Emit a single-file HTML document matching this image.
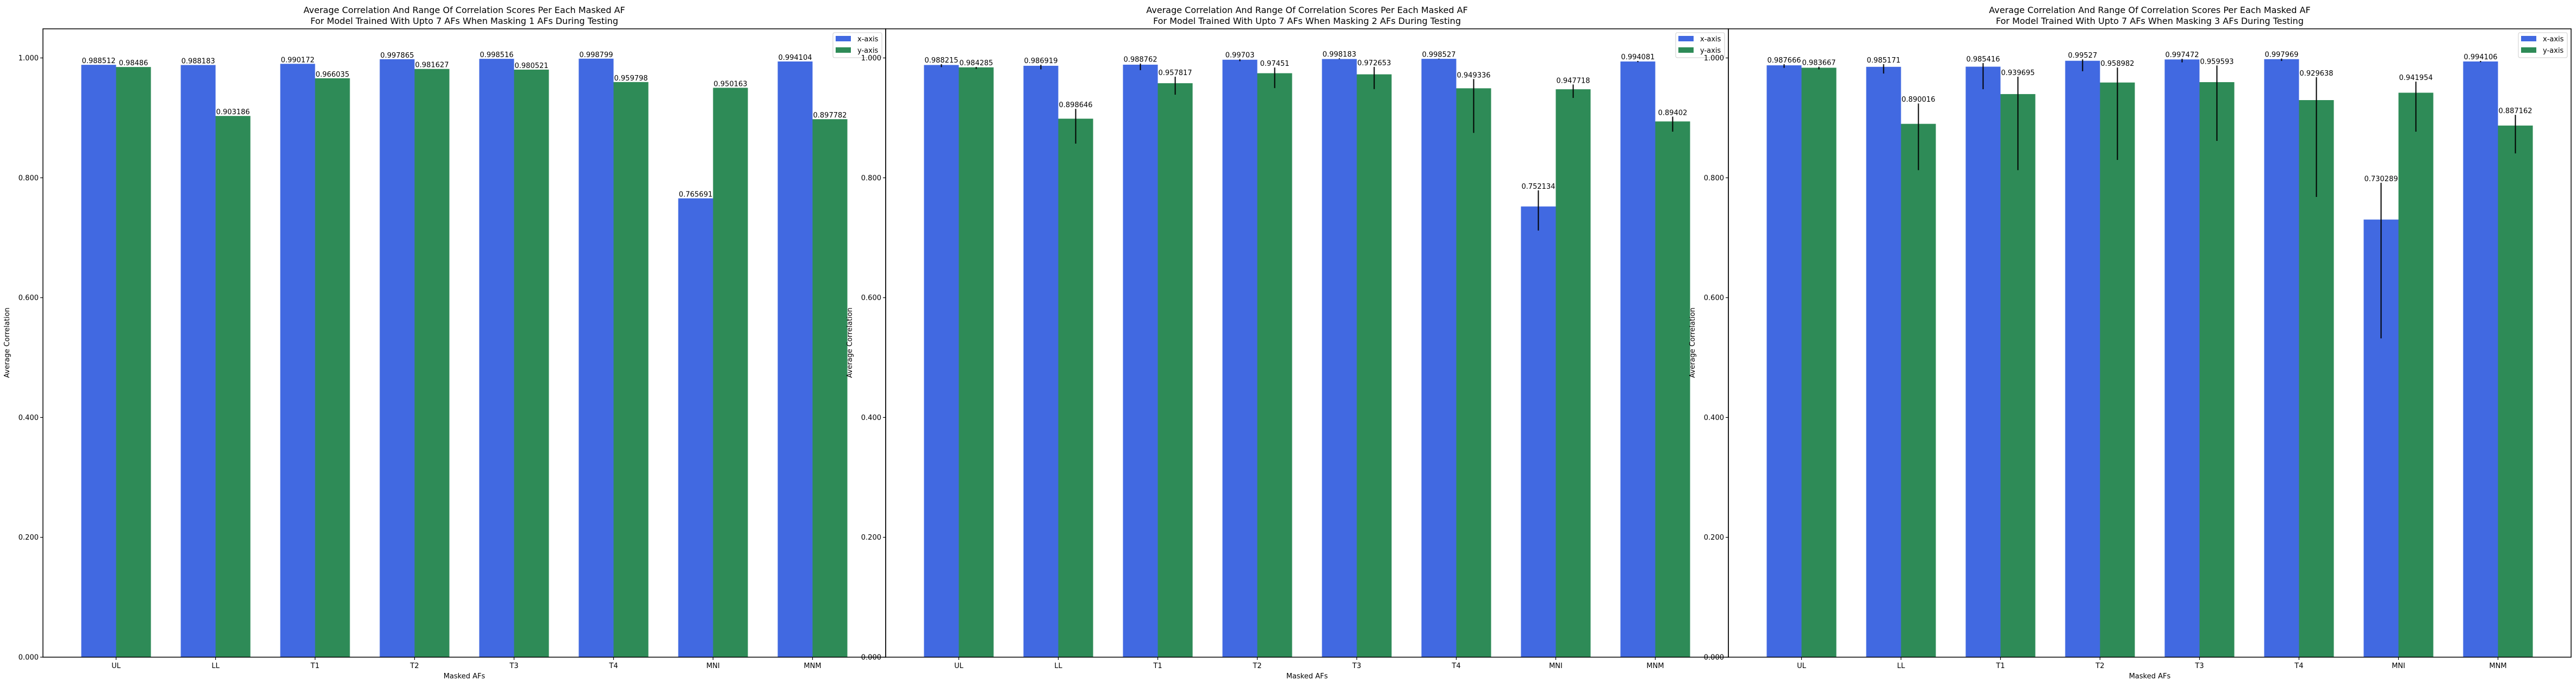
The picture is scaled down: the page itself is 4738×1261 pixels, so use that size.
<!DOCTYPE html>
<html><head><meta charset="utf-8"><style>
html,body{margin:0;padding:0;background:#fff;}
svg{display:block;font-family:"DejaVu Sans","Liberation Sans",sans-serif;}
</style></head><body>
<svg id="chart" width="4738" height="1261" viewBox="0 0 4738 1261" xmlns="http://www.w3.org/2000/svg"></svg>
<script>
const categories = ["UL","LL","T1","T2","T3","T4","MNI","MNM"];
const titles = ["Masking 1 AFs","Masking 2 AFs","Masking 3 AFs"];
const xVals1 = [0.988512,0.988183,0.990172,0.997865,0.998516,0.998799,0.765691,0.994104];
const yVals1 = [0.98486,0.903186,0.966035,0.981627,0.980521,0.959798,0.950163,0.897782];
const xVals2 = [0.988215,0.986919,0.988762,0.99703,0.998183,0.998527,0.752134,0.994081];
const yVals2 = [0.984285,0.898646,0.957817,0.97451,0.972653,0.949336,0.947718,0.89402];
const xLo2 = [0.9847,0.981,0.9796,0.9946,0.998,0.998,0.712,0.993];
const xHi2 = [0.9896,0.9886,0.9907,0.998,0.9995,0.999,0.779,0.995];
const yLo2 = [0.9817,0.857,0.9387,0.9497,0.948,0.875,0.9333,0.877];
const yHi2 = [0.985,0.915,0.9687,0.984,0.985,0.9648,0.9557,0.902];
const xVals3 = [0.987666,0.985171,0.985416,0.99527,0.997472,0.997969,0.730289,0.994106];
const yVals3 = [0.983667,0.890016,0.939695,0.958982,0.959593,0.929638,0.941954,0.887162];
const xLo3 = [0.9835,0.974,0.9478,0.9778,0.9926,0.995,0.532,0.993];
const xHi3 = [0.9896,0.9896,0.9914,0.9977,0.9986,0.999,0.7916,0.995];
const yLo3 = [0.981,0.8128,0.8128,0.8298,0.8616,0.768,0.877,0.8407];
const yHi3 = [0.9853,0.924,0.9687,0.984,0.9874,0.9678,0.9605,0.905];
const yTicks = [0,0.2,0.4,0.6,0.8,1.0];

const panels = [
  {left:79, x:xVals1, y:yVals1, err:false},
  {left:1629, x:xVals2, y:yVals2, err:true, xLo:xLo2, xHi:xHi2, yLo:yLo2, yHi:yHi2},
  {left:3179, x:xVals3, y:yVals3, err:true, xLo:xLo3, xHi:xHi3, yLo:yLo3, yHi:yHi3}
];
const NS="http://www.w3.org/2000/svg";
const svg=document.getElementById('chart');
function mk(tag,attrs,parent){const e=document.createElementNS(NS,tag);for(const k in attrs)e.setAttribute(k,attrs[k]);(parent||svg).appendChild(e);return e;}
const TOP=53,BOT=1208,PW=1550,YMAX=(1208-53)/1101.5;
const yScale=v=>BOT-v*1101.5;
const XMIN=-0.735,XMAX=7.735;
panels.forEach((p,pi)=>{
  const xScale=c=>p.left+(c-XMIN)/(XMAX-XMIN)*PW;
  const g=mk('g',{});
  
  
  const bw=0.35*PW/(XMAX-XMIN);
  categories.forEach((cat,i)=>{
    const cx=xScale(i);
    [[p.x,'#4169e1','x',-1],[p.y,'#2e8b57','y',0]].forEach(([vals,col,s,off])=>{
      const v=vals[i];
      const x0=cx+off*bw;
      const r=mk('rect',{x:x0,y:yScale(v),width:bw,height:BOT-yScale(v),fill:col},g);
      
      
      let topY=yScale(v);
      if(p.err){
        const lo=(s==='x'?p.xLo:p.yLo)[i],hi=(s==='x'?p.xHi:p.yHi)[i];
        const ex=x0+bw/2;
        const l=mk('line',{x1:ex,x2:ex,y1:yScale(hi),y2:yScale(lo),stroke:'#000','stroke-width':2},g);
        
        
        topY=Math.min(topY,yScale(hi));
      }
      const t=mk('text',{x:x0+bw/2,y:topY-3,'font-size':13,'text-anchor':'middle',fill:'#000'},g);
      t.textContent=String(v);
      
      
    });
    const tk=mk('line',{x1:cx,x2:cx,y1:BOT,y2:BOT+5,stroke:'#000','stroke-width':1.2},g);
    
    
    const tl=mk('text',{x:cx,y:BOT+20,'font-size':13,'text-anchor':'middle'},g);
    tl.textContent=cat;
    
    
  });
  yTicks.forEach(v=>{
    const yy=yScale(v);
    const tk=mk('line',{x1:p.left-5,x2:p.left,y1:yy,y2:yy,stroke:'#000','stroke-width':1.2},g);
    
    
    const tl=mk('text',{x:p.left-8,y:yy+4.5,'font-size':13,'text-anchor':'end'},g);
    tl.textContent=v.toFixed(3);
    
    
  });
  const fr=mk('rect',{x:p.left,y:TOP,width:PW,height:BOT-TOP,fill:'none',stroke:'#000','stroke-width':1.5},g);
  
  
  const cxm=p.left+PW/2;
  const t1=mk('text',{x:cxm,y:24,'font-size':16,'text-anchor':'middle'},g);
  t1.textContent='Average Correlation And Range Of Correlation Scores Per Each Masked AF';
  
  
  const t2=mk('text',{x:cxm,y:44,'font-size':16,'text-anchor':'middle'},g);
  t2.textContent='For Model Trained With Upto 7 AFs When '+titles[pi]+' During Testing';
  
  
  const xl=mk('text',{x:cxm,y:1247,'font-size':13,'text-anchor':'middle'},g);
  xl.textContent='Masked AFs';
  
  
  const ylx=p.left-62;
  const yl=mk('text',{x:ylx,y:630,'font-size':13,'text-anchor':'middle',transform:'rotate(-90 '+ylx+' 630)'},g);
  yl.textContent='Average Correlation';
  
  
  const lx=p.left+PW-97;
  const lg=mk('g',{},g);
  
  
  mk('rect',{x:lx,y:60,width:90,height:46,rx:3,fill:'#fff','fill-opacity':0.8,stroke:'#ccc','stroke-width':1},lg);
  [['x-axis','#4169e1',66],['y-axis','#2e8b57',87]].forEach(([lab,col,yy])=>{
    const e=mk('g',{},lg);
    
    
    mk('rect',{x:lx+5,y:yy,width:28,height:10,fill:col},e);
    const tt=mk('text',{x:lx+45,y:yy+10,'font-size':13},e);
    tt.textContent=lab;
  });
});
</script>
</body></html>
